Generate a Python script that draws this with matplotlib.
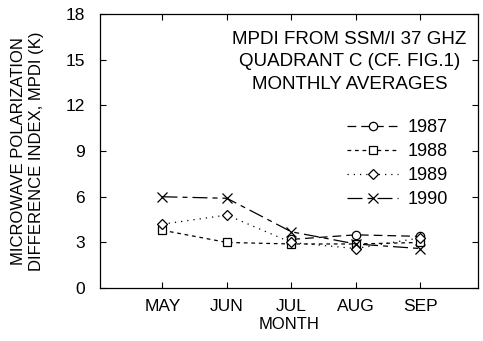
import numpy as np
import matplotlib
matplotlib.use("Agg")
import matplotlib.pyplot as plt

plt.rcParams["font.family"] = ["Liberation Sans", "DejaVu Sans"]

months = ["MAY", "JUN", "JUL", "AUG", "SEP"]
month_pos = [5, 6, 7, 8, 9]

# MPDI monthly averages (K)
mpdi_1987 = [np.nan, np.nan, 3.2, 3.5, 3.4]
mpdi_1988 = [3.8, 3.0, 2.9, 2.9, 3.0]
mpdi_1989 = [4.2, 4.8, 3.0, 2.6, 3.3]
mpdi_1990 = [6.0, 5.9, 3.7, 2.9, 2.6]

years = ["1987", "1988", "1989", "1990"]
series = [mpdi_1987, mpdi_1988, mpdi_1989, mpdi_1990]
markers = ["o", "s", "D", "x"]
dashes = [(7, 4), (3, 3), (1, 4), (12, 4, 4, 4)]
msizes = [6, 6, 5, 7]

fig = plt.figure(figsize=(4.83, 3.41), dpi=100)
ax = fig.add_axes([0.207, 0.155, 0.783, 0.804])

handles = []
for yr, vals, mk, ds, ms in zip(years, series, markers, dashes, msizes):
    h, = ax.plot(month_pos, vals, color="black", lw=0.9, dashes=ds,
                 marker=mk, markersize=ms, markerfacecolor="white",
                 markeredgecolor="black", markeredgewidth=0.9, label=yr)
    handles.append(h)

ax.set_xlim(4.03, 9.9)
ax.set_ylim(0, 18)
ax.set_xticks(month_pos)
ax.set_xticklabels(months)
ax.set_yticks(np.arange(0, 19, 3))
ax.tick_params(direction="in", top=True, right=True, length=4, width=0.8,
               labelsize=12.5)
ax.tick_params(axis="x", pad=8)
ax.tick_params(axis="y", pad=11)
for s in ax.spines.values():
    s.set_linewidth(0.9)

ax.set_xlabel("MONTH", fontsize=12, labelpad=2)
ax.set_ylabel("MICROWAVE POLARIZATION\nDIFFERENCE INDEX, MPDI (K)",
              fontsize=12, labelpad=15, linespacing=1.3)

ax.text(0.66, 0.825, "MPDI FROM SSM/I 37 GHZ\nQUADRANT C (CF. FIG.1)\nMONTHLY AVERAGES",
        transform=ax.transAxes, ha="center", va="center", fontsize=13.5,
        linespacing=1.45)

leg = ax.legend(handles=handles, loc="upper left", bbox_to_anchor=(0.635, 0.642),
                borderaxespad=0, frameon=False, fontsize=13, handlelength=2.8,
                handletextpad=0.55, labelspacing=0.38)

fig.savefig("out.png", dpi=100)
